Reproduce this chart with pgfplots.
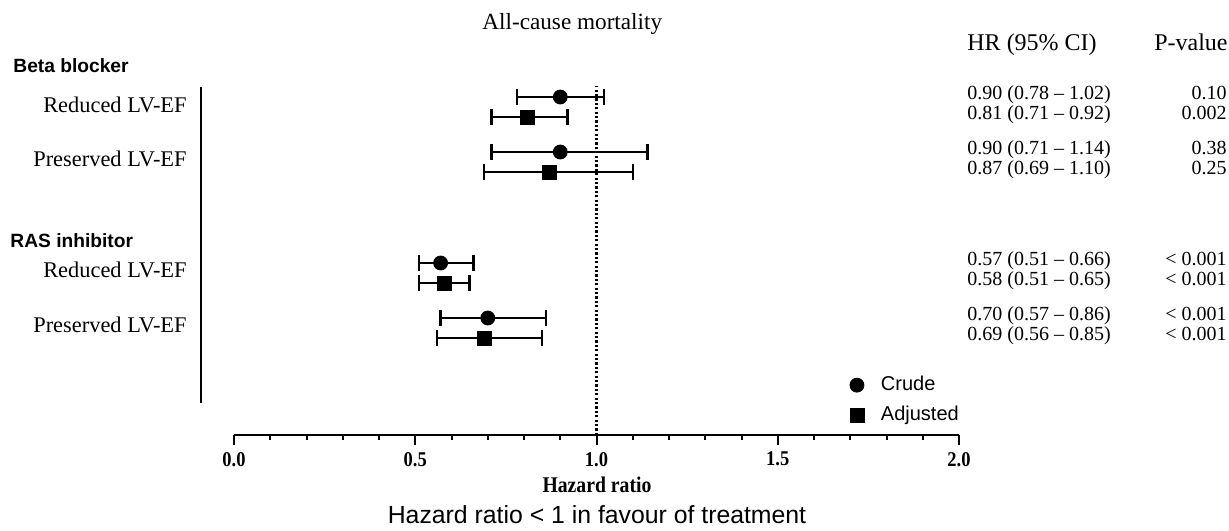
\documentclass[border=0pt]{standalone}
\usepackage{pgfplots}
\pgfplotsset{compat=1.18}
\usepackage{pgfplotstable}
\usepackage{fontspec}
\setmainfont{Liberation Serif}
\newfontfamily\sansf{Liberation Sans}
\newfontfamily\condserif[FakeStretch=0.88]{Liberation Serif}

\pgfplotstableread{
hr lo hi y
0.90 0.78 1.02 -97
0.90 0.71 1.14 -152
0.57 0.51 0.66 -263
0.70 0.57 0.86 -318
}\crude
\pgfplotstableread{
hr lo hi y
0.81 0.71 0.92 -117
0.87 0.69 1.10 -172
0.58 0.51 0.65 -283
0.69 0.56 0.85 -338
}\adjusted

\begin{document}
\begin{tikzpicture}
\useasboundingbox (0,0) rectangle (614.5pt,-265pt);
\begin{axis}[
  at={(117pt,0pt)}, anchor=north west,
  scale only axis, width=362.5pt, height=217.5pt,
  xmin=0, xmax=2, ymin=-435, ymax=0,
  clip=false,
  axis x line*=bottom, axis y line=none,
  x axis line style={line width=1pt,-},
  xtick={0,0.5,1,1.5,2},
  xticklabels={0.0,0.5,1.0,1.5,2.0},
  minor xtick={0.1,0.2,0.3,0.4,0.6,0.7,0.8,0.9,1.1,1.2,1.3,1.4,1.6,1.7,1.8,1.9},
  tick align=outside, major tick length=5pt, minor tick length=2.5pt,
  every tick/.style={black,line width=1pt},
  xticklabel style={font=\condserif\bfseries\fontsize{10.5}{10}\selectfont},
  /pgf/number format/assume math mode=true,
  legend style={at={(axis cs:1.698,-372)}, anchor=north west, draw=none, fill=none,
     font=\sansf\fontsize{10}{12}\selectfont, row sep=2.3pt, column sep=6.5pt, inner sep=0pt},
  legend cell align=left,
  error bars/error bar style={line width=1pt,black},
  error bars/error mark=|,
  error bars/error mark options={line width=1.25pt,mark size=4pt,black},
]
\addplot[black, line width=1.1pt, dash pattern=on 1.1pt off 1.1pt, forget plot] coordinates {(1,-435) (1,-86)};
\addplot[black, line width=1pt, forget plot] coordinates {(-0.0897,-87) (-0.0897,-403)};
\addplot[black, only marks, mark=*, mark size=3.5pt,
  error bars/.cd, x dir=both, x explicit]
  table[x=hr, y=y, x error plus expr=\thisrow{hi}-\thisrow{hr}, x error minus expr=\thisrow{hr}-\thisrow{lo}] {\crude};
\addlegendentry{Crude}
\addplot[black, only marks, mark=square*, mark size=3.5pt,
  error bars/.cd, x dir=both, x explicit]
  table[x=hr, y=y, x error plus expr=\thisrow{hi}-\thisrow{hr}, x error minus expr=\thisrow{hr}-\thisrow{lo}] {\adjusted};
\addlegendentry{Adjusted}
\end{axis}
\begin{scope}[x=0.5pt,y=-0.5pt]
\node[font=\fontsize{11.6}{14}\selectfont, anchor=base west, inner sep=0pt] at (482,29) {All-cause mortality};
\node[font=\fontsize{12}{14}\selectfont, anchor=base west, inner sep=0pt] at (967,50) {HR (95\% CI)};
\node[font=\fontsize{12}{14}\selectfont, anchor=base east, inner sep=0pt] at (1228,50) {P-value};
\node[font=\sansf\bfseries\fontsize{9.6}{11}\selectfont, anchor=mid west, inner sep=0pt] at (13,68) {Beta blocker};
\node[font=\sansf\bfseries\fontsize{9.6}{11}\selectfont, anchor=mid west, inner sep=0pt] at (10,243) {RAS inhibitor};
\foreach \yy/\lab in {108/Reduced LV-EF,162/Preserved LV-EF,273/Reduced LV-EF,328/Preserved LV-EF}
  \node[font=\fontsize{11.2}{13}\selectfont, anchor=mid east, inner sep=0pt] at (187,\yy) {\lab};
\foreach \yy/\lab/\pp in {97/0.90 (0.78 -- 1.02)/0.10, 117/0.81 (0.71 -- 0.92)/0.002,
  152/0.90 (0.71 -- 1.14)/0.38, 172/0.87 (0.69 -- 1.10)/0.25,
  263/0.57 (0.51 -- 0.66)/< 0.001, 283/0.58 (0.51 -- 0.65)/< 0.001,
  318/0.70 (0.57 -- 0.86)/< 0.001, 338/0.69 (0.56 -- 0.85)/< 0.001}{
  \node[font=\fontsize{10}{12}\selectfont, anchor=mid west, inner sep=0pt] at (967,\yy-2) {\lab};
  \node[font=\fontsize{10}{12}\selectfont, anchor=mid east, inner sep=0pt] at (1227,\yy-2) {\pp};
}
\node[font=\condserif\bfseries\fontsize{11.2}{12}\selectfont, anchor=mid] at (597,488) {Hazard ratio};
\node[font=\sansf\fontsize{12.4}{14}\selectfont, anchor=mid] at (597,519) {Hazard ratio < 1 in favour of treatment};
\end{scope}
\end{tikzpicture}
\end{document}
